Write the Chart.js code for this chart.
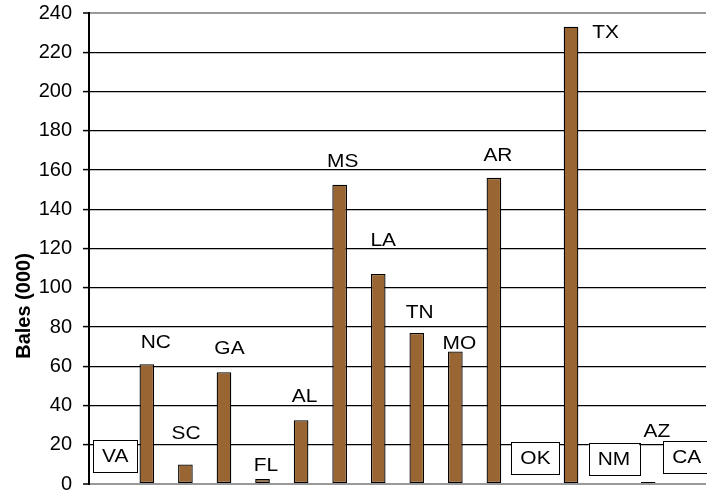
<!DOCTYPE html>
<html>
<head>
<meta charset="utf-8">
<script src="https://cdn.jsdelivr.net/npm/chart.js@4/dist/chart.umd.min.js"></script>
<style>
  html, body { margin: 0; padding: 0; background: #fff; }
  #wrap { width: 707px; height: 493px; }
</style>
</head>
<body>
<div id="wrap"><canvas id="c" width="707" height="493"></canvas></div>
<script>
// Cotton production by state, thousand bales
const states = ['VA', 'NC', 'SC', 'GA', 'FL', 'AL', 'MS', 'LA', 'TN', 'MO', 'AR', 'OK', 'TX', 'NM', 'AZ', 'CA'];
const bales = [0, 61, 10, 57, 2.5, 32.5, 152.5, 107, 77, 67.5, 156, 0, 233, 0, 1, 0];
const boxedStates = ['VA', 'OK', 'NM', 'CA'];
const yTicks = [0, 20, 40, 60, 80, 100, 120, 140, 160, 180, 200, 220, 240];

const FONT = '"Liberation Sans", Arial, sans-serif';

// Where each state's name sits relative to the top centre of its bar (px)
const labelOffsets = {
  VA: [7, -28.5], NC: [9, -22.5], SC: [0.7, -31.7], GA: [5.5, -24], FL: [3.5, -14],
  AL: [3.5, -24], MS: [3, -24.3], LA: [5, -34.7], TN: [3, -21.5], MO: [4, -9],
  AR: [4, -23], OK: [3, -26.3], TX: [34.5, 5.3], NM: [4.4, -25.5], AZ: [8.7, -51],
  CA: [0, -26.8]
};

// Glyphs are drawn slightly widened, as in the printed chart
const TEXT_STRETCH = 1.1;

const stateLabels = {
  id: 'stateLabels',
  afterDatasetsDraw(chart) {
    const ctx = chart.ctx;
    const meta = chart.getDatasetMeta(0);
    ctx.save();
    ctx.font = '19px ' + FONT;
    ctx.textAlign = 'center';
    ctx.textBaseline = 'middle';
    meta.data.forEach((bar, i) => {
      const name = states[i];
      const off = labelOffsets[name] || [0, -22];
      const x = bar.x + off[0];
      const y = bar.y + off[1];
      if (boxedStates.includes(name)) {
        const w = ctx.measureText(name).width * TEXT_STRETCH + 18;
        const h = 32;
        ctx.fillStyle = '#fff';
        ctx.fillRect(x - w / 2, y - h / 2, w, h);
        ctx.strokeStyle = '#000';
        ctx.lineWidth = 1;
        ctx.strokeRect(Math.round(x - w / 2) + 0.5, Math.round(y - h / 2) + 0.5, Math.round(w), h);
      }
      ctx.save();
      ctx.translate(x, y + 1);
      ctx.scale(TEXT_STRETCH, 1);
      ctx.fillStyle = '#000';
      ctx.fillText(name, 0, 0);
      ctx.restore();
    });
    ctx.restore();
  }
};

const yTitle = {
  id: 'yTitle',
  afterDraw(chart) {
    const ctx = chart.ctx;
    ctx.save();
    ctx.translate(24, 306);
    ctx.rotate(-Math.PI / 2);
    ctx.font = 'bold 20px ' + FONT;
    ctx.fillStyle = '#000';
    ctx.textAlign = 'center';
    ctx.textBaseline = 'middle';
    ctx.fillText('Bales (000)', 0, 0);
    ctx.restore();
  }
};

new Chart(document.getElementById('c'), {
  type: 'bar',
  data: {
    labels: states,
    datasets: [{
      data: bales,
      backgroundColor: '#996633',
      borderColor: '#000',
      borderWidth: 1.3,
      borderSkipped: false,
      barPercentage: 0.38,
      categoryPercentage: 1
    }]
  },
  options: {
    responsive: false,
    animation: false,
    devicePixelRatio: 1,
    layout: { padding: { left: 0, top: 13, right: 1, bottom: 9 } },
    plugins: { legend: { display: false }, tooltip: { enabled: false }, title: { display: false } },
    scales: {
      x: { display: false },
      y: {
        min: 0,
        max: 240,
        afterBuildTicks(scale) { scale.ticks = yTicks.map(v => ({ value: v })); },
        afterFit(scale) {
          scale.width = 89;
          scale.paddingTop = 0;
          scale.paddingBottom = 0;
        },
        ticks: {
          color: '#000',
          padding: 11,
          font: { family: FONT, size: 20 }
        },
        grid: {
          color: c => (c.tick && (c.tick.value === 0 || c.tick.value === 240)) ? '#999' : '#000',
          lineWidth: c => (c.tick && (c.tick.value === 0 || c.tick.value === 240)) ? 2 : 1.2,
          tickLength: 6,
          tickColor: '#000',
          tickWidth: 1.5
        },
        border: { color: '#000', width: 2 }
      }
    }
  },
  plugins: [stateLabels, yTitle]
});
</script>
</body>
</html>
